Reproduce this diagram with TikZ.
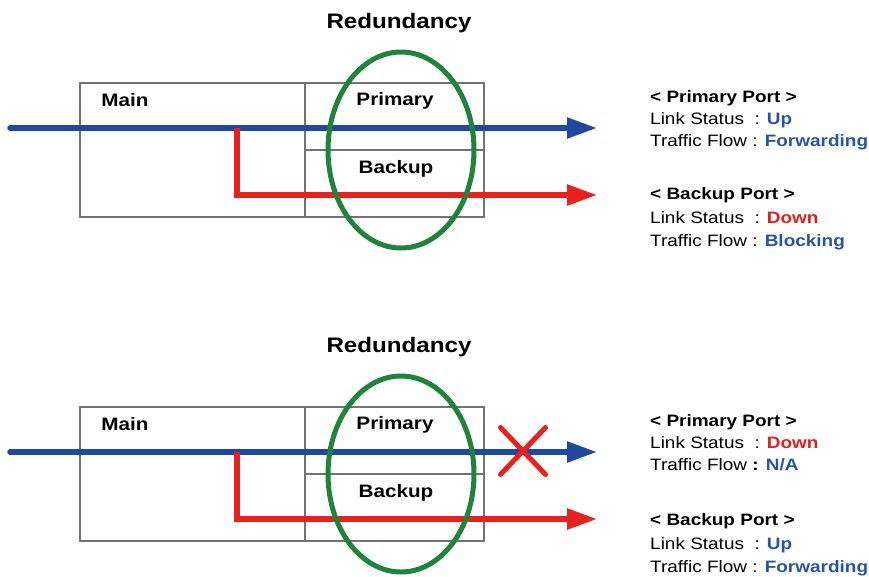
\documentclass[tikz,border=0pt]{standalone}
\usepackage{fontspec}
\setmainfont{Liberation Sans}[FakeStretch=1.15]
\usetikzlibrary{arrows.meta,shapes.geometric,shapes.misc}

\definecolor{flowblue}{RGB}{33,72,160}
\definecolor{flowred}{RGB}{232,32,30}
\definecolor{ringgreen}{RGB}{30,132,58}
\definecolor{txtblue}{RGB}{40,84,166}
\definecolor{txtred}{RGB}{228,30,30}

\begin{document}
\begin{tikzpicture}[x=1pt, y=-1pt,
  cell/.style={draw=black!55, line width=1.2pt, inner sep=0pt, outer sep=0pt},
  title/.style={font=\fontsize{21}{25}\selectfont\bfseries, inner sep=0pt, anchor=base},
  lbl/.style={font=\fontsize{18}{22}\selectfont\bfseries, inner sep=0pt, anchor=base},
  info/.style={font=\fontsize{16.5}{20}\selectfont, inner sep=0pt, anchor=base west},
  blueflow/.style={draw=flowblue, line width=5.5pt, line cap=round, -{Triangle[length=30pt,width=20pt]}},
  redflow/.style={draw=flowred, line width=5.5pt, -{Triangle[length=30pt,width=20pt]}},
  ring/.style={draw=ringgreen, line width=5pt, ellipse, minimum width=146pt, minimum height=196pt, inner sep=0pt},
  cut/.style={draw=flowred, line width=5pt, line cap=round, cross out, minimum width=40pt, minimum height=42pt, inner sep=0pt}
]
\useasboundingbox (0,0) rectangle (869,576);

% Both panels share the same switch layout
\foreach \p/\dy in {A/0, B/324} {
  \begin{scope}[shift={(0,\dy)}]
    \node[title] (title\p) at (399,28) {Redundancy};

    % boxes
    \node[cell, minimum width=225pt, minimum height=134pt] (main\p) at (192.5,150) {};
    \node[cell, anchor=north west, minimum width=179pt, minimum height=67pt] (prim\p) at (main\p.north east) {};
    \node[cell, anchor=north west, minimum width=179pt, minimum height=67pt] (back\p) at (prim\p.south west) {};

    \node[lbl] (mainlbl\p) at (125,106) {Main};
    \node[lbl] (primlbl\p) at (395,105) {Primary};
    \node[lbl] (backlbl\p) at (396,173) {Backup};

    % traffic paths
    \coordinate (in\p) at (10,128);
    \coordinate (out\p) at (597,128);
    \coordinate (tap\p) at (237,128);
    \coordinate (bkout\p) at (597,195);
    \draw[blueflow] (in\p) -- (out\p);
    \draw[redflow] (tap\p) |- (bkout\p);

    % redundancy group
    \node[ring] (ring\p) at (401,150) {};
  \end{scope}
}

% primary link is cut in the second case
\node[cut] (cutB) at (523,451) {};

% port states, first case
\node[info] (priA1) at (650,102) {\bfseries < Primary Port >};
\node[info] (priA2) at (650,124) {Link Status\ \ : \textcolor{txtblue}{\bfseries Up}};
\node[info] (priA3) at (650,146) {Traffic Flow : \textcolor{txtblue}{\bfseries Forwarding}};
\node[info] (bakA1) at (650,199) {\bfseries < Backup Port >};
\node[info] (bakA2) at (650,223) {Link Status\ \ : \textcolor{txtred}{\bfseries Down}};
\node[info] (bakA3) at (650,246) {Traffic Flow : \textcolor{txtblue}{\bfseries Blocking}};

% port states, second case
\node[info] (priB1) at (650,426) {\bfseries < Primary Port >};
\node[info] (priB2) at (650,448) {Link Status\ \ : \textcolor{txtred}{\bfseries Down}};
\node[info] (priB3) at (650,470) {Traffic Flow {\bfseries :} \textcolor{txtblue}{\bfseries N/A}};
\node[info] (bakB1) at (650,525) {\bfseries < Backup Port >};
\node[info] (bakB2) at (650,549) {Link Status\ \ : \textcolor{txtblue}{\bfseries Up}};
\node[info] (bakB3) at (650,572) {Traffic Flow : \textcolor{txtblue}{\bfseries Forwarding}};
\end{tikzpicture}
\end{document}
